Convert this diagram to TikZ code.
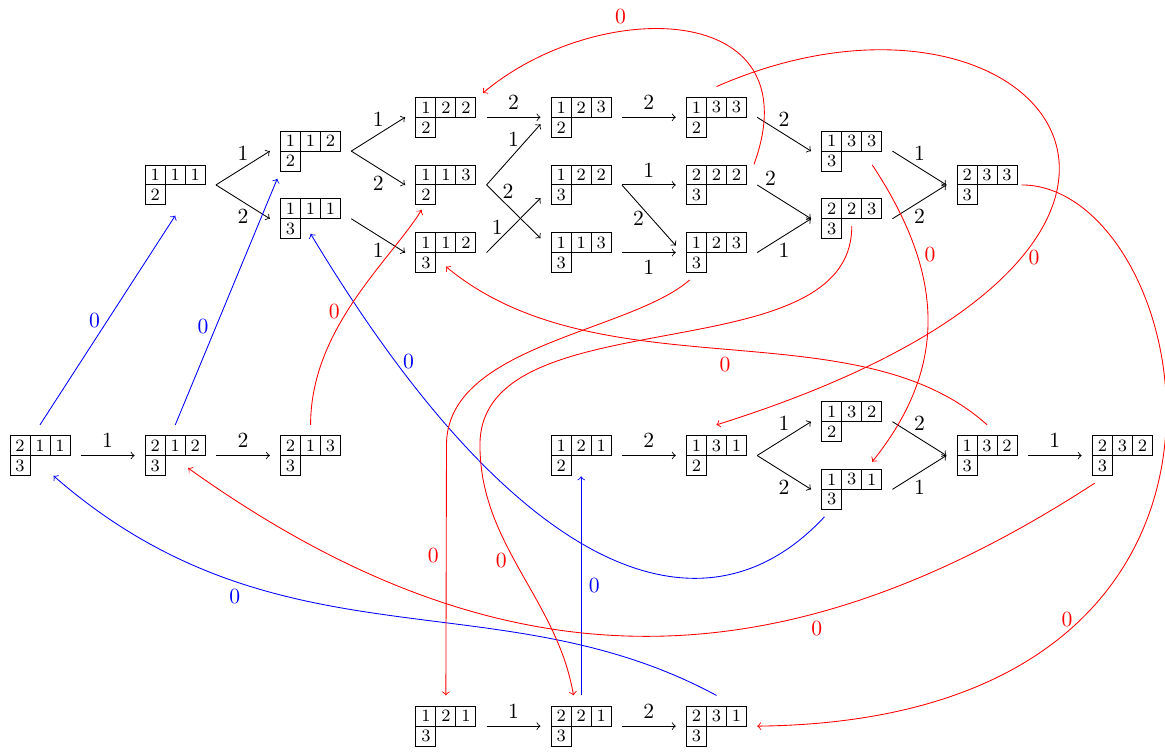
\documentclass[tikz,border=0pt]{standalone}
\tikzset{
  tab/.style={minimum width=0.975cm, minimum height=0.65cm, inner sep=0pt, outer sep=0.174cm},
  cell/.style={inner sep=0pt, font=\footnotesize},
  arr/.style={->},
  red0/.style={->, red},
  blue0/.style={->, blue}
}
% tableau of shape (3,1): name, position, first row, second row
\newcommand{\tabl}[6]{%
  \node[tab] (#1) at (#2) {};
  \begin{scope}[shift={(#1.center)}]
    \draw (-0.4875,0) rectangle (0.4875,0.325);
    \draw (-0.1625,0) -- (-0.1625,0.325) (0.1625,0) -- (0.1625,0.325);
    \draw (-0.4875,-0.325) rectangle (-0.1625,0);
    \node[cell] (#1-a) at (-0.325,0.1625) {#3};
    \node[cell] (#1-b) at (0,0.1625) {#4};
    \node[cell] (#1-c) at (0.325,0.1625) {#5};
    \node[cell] (#1-d) at (-0.325,-0.1625) {#6};
  \end{scope}}
\begin{document}
\begin{tikzpicture}
  \useasboundingbox (-0.65,1.907) rectangle (18.293,-10.32);
  \tabl{t1112}{2.2,-1.1}{1}{1}{1}{2}
  \tabl{t1122}{4.4,-0.55}{1}{1}{2}{2}
  \tabl{t1113}{4.4,-1.65}{1}{1}{1}{3}
  \tabl{t1222}{6.6,0}{1}{2}{2}{2}
  \tabl{t1132}{6.6,-1.1}{1}{1}{3}{2}
  \tabl{t1123}{6.6,-2.2}{1}{1}{2}{3}
  \tabl{t1232}{8.8,0}{1}{2}{3}{2}
  \tabl{t1223}{8.8,-1.1}{1}{2}{2}{3}
  \tabl{t1133}{8.8,-2.2}{1}{1}{3}{3}
  \tabl{t1332}{11,0}{1}{3}{3}{2}
  \tabl{t2223}{11,-1.1}{2}{2}{2}{3}
  \tabl{t1233}{11,-2.2}{1}{2}{3}{3}
  \tabl{t1333}{13.2,-0.55}{1}{3}{3}{3}
  \tabl{t2233}{13.2,-1.65}{2}{2}{3}{3}
  \tabl{t2333}{15.4,-1.1}{2}{3}{3}{3}
  \tabl{t2113}{0,-5.5}{2}{1}{1}{3}
  \tabl{t2123}{2.2,-5.5}{2}{1}{2}{3}
  \tabl{t2133}{4.4,-5.5}{2}{1}{3}{3}
  \tabl{t1212}{8.8,-5.5}{1}{2}{1}{2}
  \tabl{t1312}{11,-5.5}{1}{3}{1}{2}
  \tabl{t1322}{13.2,-4.95}{1}{3}{2}{2}
  \tabl{t1313}{13.2,-6.05}{1}{3}{1}{3}
  \tabl{t1323}{15.4,-5.5}{1}{3}{2}{3}
  \tabl{t2323}{17.6,-5.5}{2}{3}{2}{3}
  \tabl{t1213}{6.6,-9.9}{1}{2}{1}{3}
  \tabl{t2213}{8.8,-9.9}{2}{2}{1}{3}
  \tabl{t2313}{11,-9.9}{2}{3}{1}{3}
  % arrows 1 and 2
  \draw[arr] (t1112.east) -- node[above] (e1) {1} (t1122.west);
  \draw[arr] (t1112.east) -- node[below] (e2) {2} (t1113.west);
  \draw[arr] (t1122.east) -- node[above] (e3) {1} (t1222.west);
  \draw[arr] (t1122.east) -- node[below] (e4) {2} (t1132.west);
  \draw[arr] (t1113.east) -- node[below] (e5) {1} (t1123.west);
  \draw[arr] (t1222.east) -- node[above] (e6) {2} (t1232.west);
  \draw[arr] (t1132.east) -- node[above] (e7) {1} ([yshift=-0.114cm]t1232.west);
  \draw[arr] (t1132.east) -- node[above,pos=.4] (e8) {2} ([yshift=0.234cm]t1133.west);
  \draw[arr] (t1123.east) -- node[above,pos=.2] (e9) {1} ([yshift=-0.216cm]t1223.west);
  \draw[arr] (t1232.east) -- node[above] (e10) {2} (t1332.west);
  \draw[arr] (t1223.east) -- node[above] (e11) {1} (t2223.west);
  \draw[arr] (t1223.east) -- node[left,pos=.55] (e12) {2} ([yshift=0.114cm]t1233.west);
  \draw[arr] (t1133.east) -- node[below] (e13) {1} (t1233.west);
  \draw[arr] (t1332.east) -- node[above] (e14) {2} (t1333.west);
  \draw[arr] (t2223.east) -- node[above,pos=.25] (e15) {2} (t2233.west);
  \draw[arr] (t1233.east) -- node[below] (e16) {1} (t2233.west);
  \draw[arr] (t1333.east) -- node[above] (e17) {1} (t2333.west);
  \draw[arr] (t2233.east) -- node[below] (e18) {2} (t2333.west);
  \draw[arr] (t2113.east) -- node[above] (e19) {1} (t2123.west);
  \draw[arr] (t2123.east) -- node[above] (e20) {2} (t2133.west);
  \draw[arr] (t1212.east) -- node[above] (e21) {2} (t1312.west);
  \draw[arr] (t1312.east) -- node[above] (e22) {1} (t1322.west);
  \draw[arr] (t1312.east) -- node[below] (e23) {2} (t1313.west);
  \draw[arr] (t1322.east) -- node[above] (e24) {2} (t1323.west);
  \draw[arr] (t1313.east) -- node[below] (e25) {1} (t1323.west);
  \draw[arr] (t1323.east) -- node[above] (e26) {1} (t2323.west);
  \draw[arr] (t1213.east) -- node[above] (e27) {1} (t2213.west);
  \draw[arr] (t2213.east) -- node[above] (e28) {2} (t2313.west);
  % arrows 0
  \draw[blue0] (t2113.north) -- node[left] (z1) {0} (t1112.south);
  \draw[blue0] (t2123.north) -- node[left,pos=.4] (z2) {0} ([xshift=0.12cm,yshift=0.05cm]t1122.south west);
  \draw[blue0] (t2213.north) -- node[right] (z3) {0} ([yshift=0.16cm]t1212.south);
  \draw[blue0] (t2313.north) .. controls (7.439,-7.475) and (3.891,-9.032) .. ([xshift=0.22cm,yshift=-0.33cm]t2113.center) node[below,pos=.73] (z4) {0};
  \draw[blue0] ([xshift=-0.444cm,yshift=-0.446cm]t1313.center) .. controls (10.767,-8.634) and (7.740,-7.455) .. ([yshift=-0.244cm]t1113.center) node[right,pos=.86] (z5) {0};
  \draw[red0] ([xshift=0.611cm,yshift=0.337cm]t2223.center) .. controls (12.584,1.915) and (9.072,1.964) .. ([xshift=0.602cm,yshift=0.395cm]t1222.center) node[above,pos=.66] (z6) {0};
  \draw[red0] (t1332.north) .. controls (16.26,2.802) and (20.325,-2.076) .. (t1312.north) node[right,pos=.72] (z7) {0};
  \draw[red0] ([xshift=0.332cm,yshift=-0.223cm]t1333.center) .. controls (14.618,-2.423) and (14.858,-3.950) .. ([xshift=0.332cm,yshift=0.449cm]t1313.center) node[right,pos=.3] (z8) {0};
  \draw[red0] ([xshift=-0.434cm,yshift=-0.444cm]t1233.center) .. controls (9.587,-3.499) and (6.61,-3.702) .. (6.61,-5.328) -- (t1213.north) node[left,pos=.44] (z9) {0};
  \draw[red0] ([yshift=-0.119cm]t2233.center) .. controls (13.208,-4.206) and (7.154,-2.889) .. (7.154,-5.328) .. controls (7.154,-6.954) and (8.410,-7.839) .. ([xshift=-0.125cm]t2213.north) node[left,pos=.45] (z10) {0};
  \draw[red0] (t1323.north) .. controls (13.257,-3.067) and (9.117,-4.511) .. ([yshift=-0.228cm]t1123.center) node[below,pos=.5] (z11) {0};
  \draw[red0] ([xshift=-0.45cm,yshift=-0.449cm]t2323.center) .. controls (11.971,-9.319) and (7.439,-9.297) .. ([xshift=0.21cm,yshift=-0.205cm]t2123.center) node[below,pos=.3] (z12) {0};
  \draw[red0] (t2133.north) .. controls (4.402,-3.431) and (5.689,-2.335) .. ([xshift=-0.395cm,yshift=-0.407cm]t1132.center) node[left,pos=.45] (z13) {0};
  \draw[red0] ([xshift=-0.1cm]t2333.east) .. controls (18.78,-1.101) and (20.732,-9.8) .. (t2313.east) node[left,pos=.72] (z14) {0};
\end{tikzpicture}
\end{document}
